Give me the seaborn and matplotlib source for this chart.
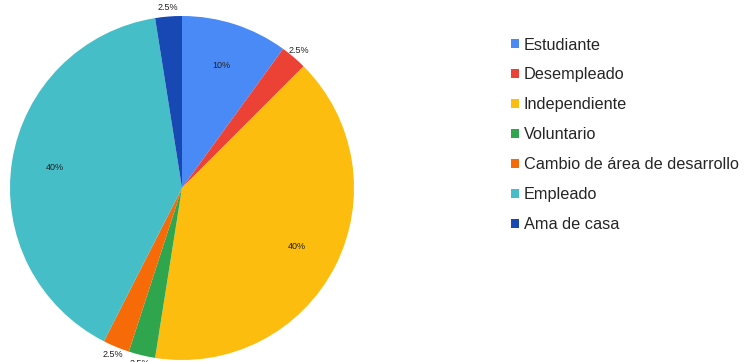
import numpy as np
import matplotlib
matplotlib.use('Agg')
import matplotlib.pyplot as plt
import seaborn as sns

# data
categories = ['Estudiante', 'Desempleado', 'Independiente', 'Voluntario',
              'Cambio de área de desarrollo', 'Empleado', 'Ama de casa']
values = [10, 2.5, 40, 2.5, 2.5, 40, 2.5]
colors = ['#4a8af6', '#ec4236', '#fcbd0e', '#2fa64e', '#f76a08', '#45bec8', '#1748b3']

sns.set_theme(style='white')
plt.rcParams['font.family'] = ['Liberation Sans', 'DejaVu Sans']

fig = plt.figure(figsize=(7.45, 3.62), dpi=100)
ax = fig.add_axes([10 / 745, 2 / 362, 344 / 745, 344 / 362])

wedges, texts, autotexts = ax.pie(
    values, colors=sns.color_palette(colors), startangle=90, counterclock=False,
    autopct=lambda p: f'{p:g}%', pctdistance=0.75,
    wedgeprops=dict(linewidth=0), textprops=dict(fontsize=6.5, color='#222222'))

# small slices get their labels just outside the pie
total = sum(values)
cum = 0
for v, t in zip(values, autotexts):
    mid = np.deg2rad(90 - (cum + v / 2) / total * 360)
    cum += v
    if v / total < 0.05:
        t.set_position((1.05 * np.cos(mid), 1.05 * np.sin(mid)))
ax.set_aspect('equal')
ax.set_xlim(-1, 1)
ax.set_ylim(-1, 1)

fig.legend(wedges, categories, loc='upper left', bbox_to_anchor=(504 / 745, 1 - 31 / 362),
           frameon=False, fontsize=11.7, handlelength=0.5, handleheight=0.5,
           handletextpad=0.3, labelspacing=0.92, borderaxespad=0)

plt.savefig('out.png', dpi=100)
